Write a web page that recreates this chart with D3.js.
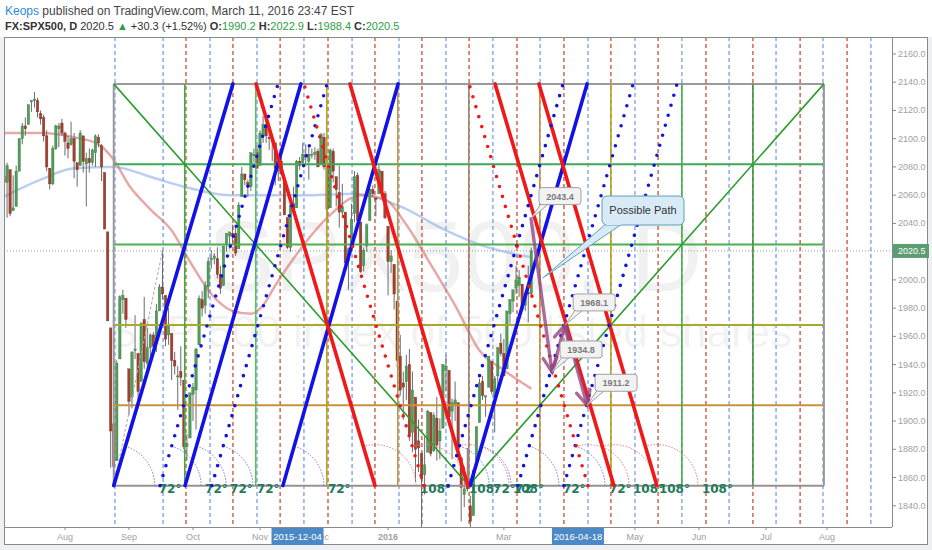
<!DOCTYPE html>
<html><head><meta charset="utf-8">
<script src="https://cdn.jsdelivr.net/npm/d3@7/dist/d3.min.js"></script>
<style>html,body{margin:0;padding:0;background:#eef0f3;}svg{display:block;}</style>
</head><body>
<svg id="chart" width="932" height="550"></svg>
<script>
// ================= DATA =================
// Daily bars (trading days) starting 2015-07-06 : [open, high, low, close]
const candles = [
 // Jul 2015
 [2073,2078,2058,2069],[2069,2083,2044,2081],[2078,2078,2045,2047],[2049,2074,2049,2051],[2052,2081,2052,2077],
 [2077,2100,2077,2100],[2100,2111,2096,2109],[2109,2115,2102,2107],[2110,2124,2110,2124],[2126,2127,2119,2127],
 [2127,2133,2122,2128],[2127,2129,2115,2119],[2118,2120,2110,2114],[2115,2117,2098,2102],[2102,2106,2077,2080],
 [2079,2079,2064,2068],[2068,2095,2067,2093],[2093,2110,2092,2109],[2107,2111,2094,2109],[2111,2114,2102,2104],
 // Aug 2015
 [2104,2105,2088,2098],[2097,2102,2086,2093],[2096,2112,2095,2100],[2100,2104,2072,2084],[2083,2083,2066,2078],
 [2081,2106,2081,2104],[2102,2102,2076,2084],[2082,2090,2052,2086],[2086,2093,2076,2083],[2083,2093,2081,2092],
 [2090,2103,2080,2102],[2101,2103,2094,2097],[2095,2096,2070,2080],[2076,2076,2036,2036],[2034,2034,1971,1971],
 [1966,1966,1867,1893],[1898,1948,1867,1868],[1872,1943,1872,1941],[1944,1989,1944,1988],[1986,1993,1976,1989],
 [1987,1987,1966,1972],
 // Sep 2015
 [1937,1937,1904,1914],[1917,1949,1909,1949],[1950,1975,1944,1951],[1948,1948,1909,1921],
 [1928,1970,1928,1969],[1972,1988,1937,1942],[1941,1966,1936,1952],[1952,1962,1944,1961],
 [1961,1963,1948,1953],[1955,1983,1949,1978],[1978,1997,1978,1995],[1995,2021,1986,1990],[1989,1989,1953,1958],
 [1961,1980,1954,1967],[1962,1962,1929,1943],[1943,1949,1933,1939],[1932,1939,1908,1932],[1935,1953,1925,1931],
 [1929,1929,1880,1882],[1882,1891,1872,1884],[1888,1920,1888,1920],
 // Oct 2015
 [1919,1927,1900,1924],[1922,1952,1894,1951],
 [1954,1989,1954,1987],[1986,1992,1974,1980],[1982,1999,1976,1996],[1995,2016,1987,2013],[2014,2021,2008,2015],
 [2015,2019,2011,2017],[2015,2023,2001,2004],[2004,2010,1990,1994],[1996,2024,1996,2024],[2025,2033,2020,2033],
 [2031,2034,2022,2034],[2033,2039,2026,2031],[2033,2037,2017,2019],[2022,2055,2022,2053],[2059,2080,2059,2075],
 [2075,2075,2067,2071],[2069,2071,2059,2066],[2066,2090,2063,2090],[2088,2093,2083,2089],[2090,2095,2079,2079],
 // Nov 2015
 [2081,2106,2081,2104],[2102,2116,2097,2110],[2110,2114,2097,2102],[2101,2109,2092,2100],[2098,2101,2084,2099],
 [2097,2097,2067,2079],[2077,2084,2070,2082],[2084,2087,2074,2075],[2072,2072,2046,2046],[2044,2044,2022,2023],
 [2023,2053,2020,2053],[2054,2066,2046,2050],[2051,2085,2051,2084],[2084,2087,2078,2081],[2083,2097,2083,2089],
 [2089,2096,2081,2087],[2084,2094,2071,2089],[2089,2093,2086,2089],[2089,2094,2085,2090],[2091,2093,2080,2080],
 // Dec 2015
 [2082,2104,2082,2103],[2101,2104,2078,2080],[2081,2085,2043,2050],[2051,2093,2051,2092],
 [2091,2093,2069,2077],[2073,2073,2052,2064],[2062,2081,2037,2048],[2048,2068,2045,2052],[2048,2048,2009,2012],
 [2013,2023,1993,2022],[2025,2054,2025,2043],[2047,2077,2041,2073],[2074,2076,2041,2042],[2041,2041,2005,2006],
 [2010,2023,2006,2021],[2024,2040,2020,2039],[2042,2065,2042,2064],[2064,2067,2059,2061],
 [2058,2058,2045,2057],[2061,2081,2061,2078],[2077,2077,2062,2063],[2061,2063,2043,2044],
 // Jan 2016
 [2038,2038,1989,2013],[2013,2021,2005,2017],[2011,2011,1979,1990],[1985,1985,1938,1943],[1946,1961,1918,1922],
 [1927,1935,1901,1924],[1928,1947,1915,1939],[1940,1951,1886,1890],[1892,1935,1878,1922],[1917,1917,1857,1880],
 [1886,1901,1864,1881],[1877,1877,1812,1859],[1862,1889,1848,1869],[1878,1908,1878,1907],
 [1906,1906,1875,1877],[1879,1906,1878,1904],[1902,1917,1872,1883],[1886,1902,1873,1893],[1895,1940,1895,1940],
 // Feb 2016
 [1936,1947,1921,1939],[1936,1936,1897,1903],[1907,1916,1873,1913],[1911,1928,1900,1915],[1913,1913,1872,1880],
 [1874,1874,1829,1853],[1848,1868,1839,1852],[1858,1881,1850,1852],[1840,1847,1810,1829],[1833,1865,1833,1865],
 [1872,1896,1872,1896],[1899,1930,1899,1927],[1928,1932,1915,1918],[1917,1918,1903,1918],
 [1924,1946,1924,1946],[1942,1942,1919,1921],[1917,1932,1892,1930],[1932,1952,1925,1952],[1955,1962,1946,1948],
 [1948,1958,1932,1932],
 // Mar 2016
 [1937,1978,1937,1978],[1976,1986,1969,1986],[1985,1993,1977,1993],[1994,2010,1990,2000],
 [1996,2007,1988,2002],[1997,1997,1977,1979],[1982,1992,1978,1989],[1991,2010,1970,1990],[1990.2,2022.9,1988.4,2020.5]
];

// Moving averages: [bar, price]
const maRed = [[0,2104],[12,2104],[23,2101],[31,2096],[36,2085],[41,2067],[48,2050],[55,2035],[61,2013],[68,1990],
  [75,1978],[81,1976],[85,1982],[89,1996],[97,2021],[107,2046],[117,2060],[125,2057],[132,2039],[140,2011],
  [148,1982],[156,1950],[164,1936],[173,1923]];
const maBlue = [[0,2059],[12,2071],[23,2079],[36,2080],[48,2073],[59,2066],[74,2060],[100,2060],[115,2061],
  [130,2052],[145,2035],[156,2025],[173,2016]];

const priceTicks = [1840,1860,1880,1900,1920,1940,1960,1980,2000,2020,2040,2060,2080,2100,2120,2140,2160];
const timeTicks = [["Aug",20],["Sep",41],["Oct",62],["Nov",84],["Dec",104],["2016",126],["Mar",164],["May",207],["Jun",228],["Jul",250],["Aug",270]];
const axisMarkers = [["2015-12-04",96.3],["2016-04-18",188.3]];
const lastPrice = 2020.5;

// time cycle dashed verticals (bar positions)
const blueCycles = [36.4,52.2,67.6,83.0,98.4,114.2,129.6,145.0,160.4,175.9,191.6,207.0,222.4,237.9,253.3,268.7,284.4];
const redCycles  = [59.7,75.1,90.6,106.3,121.7,137.1,152.6,168.3,183.7,199.1,214.6,230.3,245.7,261.2,276.6];

// Gann box
const gannBars   = [36,59.3,82.6,105.9,129.2,152.5,175.8,199.1,222.4,245.7,269];
const gannVColors= ["#9a9a9a","#3faa46","#5cbf5c","#a9a92a","#c8923a","#a08474","#c8923a","#a9a92a","#45ad4b","#3c9a48","#9a9a9a"];
const gannPrices = [2138.8,2081.9,2025.0,1968.1,1911.2,1854.3];
const gannHColors= ["#9a9a9a","#3caa5a","#4cb04c","#a9a92a","#c8923a","#9a9090"];

// angle lines: [bottom bar, top bar]
const blueSolid  = [[36,75.1],[59.4,97.4],[91.5,129.3],[152.9,191.3]];
const redSolid   = [[121.7,82.7],[152.2,113.5],[200.1,161.1],[214.2,175.5]];
const blueDotted = [[51.2,89.9],[68.2,106.0],[145.7,183.4],[168.6,206.4],[183.7,220.8]];
const redDotted  = [[137.8,98.4],[191.6,152.6]];

// price callouts [bar, price]
const callouts = [[172.9,2043.4],[184.1,1968.1],[179.8,1934.8],[191.3,1911.2]];
const pathPoints = [[172.9,2043.4],[179.8,1934.8],[184.1,1968.1],[191.3,1911.2]];
const note = {text:"Possible Path", bar:176.8, price:2001.4};
const helperLine = [[36,1854.3],[52.2,2022.6]];

// ================= DRAW =================
const svg = d3.select("#chart");
const PL=4, PR=892, PT=37, PB=527;
const x = d3.scaleLinear().domain([0,270]).range([4, 4+270*3.048]);
const y = d3.scaleLinear().domain([1825,2172]).range([PB, PT]);

svg.append("rect").attr("x",0).attr("y",0).attr("width",932).attr("height",550).attr("fill","#eef0f3");
svg.append("rect").attr("x",0).attr("y",0).attr("width",932).attr("height",37).attr("fill","#ffffff");
svg.append("rect").attr("x",4.5).attr("y",37.5).attr("width",923).attr("height",507).attr("fill","#fff").attr("stroke","#8a8a8a");

svg.append("defs").append("clipPath").attr("id","pane").append("rect")
  .attr("x",PL+1).attr("y",PT+1).attr("width",PR-PL-1).attr("height",PB-PT-1);
const pane = svg.append("g").attr("clip-path","url(#pane)");

const wm = pane.append("g").attr("fill","rgba(60,60,60,0.07)").attr("font-family","Liberation Sans, Arial, sans-serif").attr("text-anchor","middle");
wm.append("text").attr("x",455).attr("y",291).attr("font-size",100).text("SPX500, D");
wm.append("text").attr("x",450).attr("y",347).attr("font-size",44).text("S&P 500 index of 500 listed shares");

pane.selectAll(".bc").data(blueCycles).join("line").attr("x1",d=>x(d)).attr("x2",d=>x(d)).attr("y1",PT).attr("y2",PB)
  .attr("stroke","#8fb2ea").attr("stroke-width",1.6).attr("stroke-dasharray","4 3");
pane.selectAll(".rc").data(redCycles).join("line").attr("x1",d=>x(d)).attr("x2",d=>x(d)).attr("y1",PT).attr("y2",PB)
  .attr("stroke","#d2705c").attr("stroke-width",1.6).attr("stroke-dasharray","4 3");

const lineGen = d3.line().x(d=>x(d[0])).y(d=>y(d[1])).curve(d3.curveMonotoneX);
pane.append("path").attr("d",lineGen(maBlue)).attr("fill","none").attr("stroke","rgba(150,180,235,0.65)").attr("stroke-width",2.5);
pane.append("path").attr("d",lineGen(maRed)).attr("fill","none").attr("stroke","rgba(215,110,110,0.6)").attr("stroke-width",2.5);

pane.append("line").attr("x1",PL).attr("x2",PR).attr("y1",y(lastPrice)).attr("y2",y(lastPrice))
  .attr("stroke","#9a9a9a").attr("stroke-width",1).attr("stroke-dasharray","1 2");

const cg = pane.append("g");
candles.forEach((d,i)=>{
  const [o,h,l,c]=d, up=c>=o;
  const col = up? "#4f9e59":"#a3412f", edge = up? "#3a7a43":"#7a2e22";
  cg.append("line").attr("x1",x(i)).attr("x2",x(i)).attr("y1",y(h)).attr("y2",y(l)).attr("stroke","#6b6b6b").attr("stroke-width",1);
  const t=y(Math.max(o,c)), b=y(Math.min(o,c));
  cg.append("rect").attr("x",x(i)-1.2).attr("y",t).attr("width",2.4).attr("height",Math.max(1,b-t))
    .attr("fill",col).attr("stroke",edge).attr("stroke-width",0.4);
});

const gb = pane.append("g");
gannPrices.forEach((p,i)=>gb.append("line").attr("x1",x(gannBars[0])).attr("x2",x(gannBars[10])).attr("y1",y(p)).attr("y2",y(p))
  .attr("stroke",gannHColors[i]).attr("stroke-width",2));
gannBars.forEach((b,i)=>gb.append("line").attr("x1",x(b)).attr("x2",x(b)).attr("y1",y(gannPrices[0])).attr("y2",y(gannPrices[5]))
  .attr("stroke",gannVColors[i]).attr("stroke-width",i==0||i==10?2:1.6));
gb.append("polyline").attr("points",[[x(gannBars[0]),y(gannPrices[0])],[x(gannBars[5]),y(gannPrices[5])],[x(gannBars[10]),y(gannPrices[0])]].map(p=>p.join(",")).join(" "))
  .attr("fill","none").attr("stroke","#2b9e2b").attr("stroke-width",1.6);

pane.append("line").attr("x1",x(helperLine[0][0])).attr("y1",y(helperLine[0][1])).attr("x2",x(helperLine[1][0])).attr("y2",y(helperLine[1][1]))
  .attr("stroke","#aaa").attr("stroke-width",1).attr("stroke-dasharray","3 2");

const pTop=gannPrices[0], pBot=gannPrices[5];
const ag = pane.append("g");
function angleMark(b, deg, col){
  const bx=x(b), by=y(pBot), r=41, a=deg*Math.PI/180;
  ag.append("path").attr("d",`M${bx+r},${by} A${r},${r} 0 0 0 ${bx+r*Math.cos(a)},${by-r*Math.sin(a)}`)
    .attr("fill","none").attr("stroke",col).attr("stroke-width",1).attr("stroke-dasharray","1.5 1.5");
  ag.append("text").attr("x",bx+45).attr("y",by+7).attr("font-family","DejaVu Sans, sans-serif").attr("font-weight","bold")
    .attr("font-size",12).attr("fill","#217a5c").text(deg+"°");
}
blueSolid.concat(blueDotted).forEach(d=>angleMark(d[0],72,"#7a78d8"));
redSolid.concat(redDotted).forEach(d=>angleMark(d[0],108,"#e07a86"));

const lg = pane.append("g").attr("stroke-linecap","round");
blueSolid.forEach(d=>lg.append("line").attr("x1",x(d[0])).attr("y1",y(pBot)).attr("x2",x(d[1])).attr("y2",y(pTop)).attr("stroke","#1111e8").attr("stroke-width",3.6));
redSolid.forEach(d=>lg.append("line").attr("x1",x(d[0])).attr("y1",y(pBot)).attr("x2",x(d[1])).attr("y2",y(pTop)).attr("stroke","#f01818").attr("stroke-width",3.6));
blueDotted.forEach(d=>lg.append("line").attr("x1",x(d[0])).attr("y1",y(pBot)).attr("x2",x(d[1])).attr("y2",y(pTop)).attr("stroke","#1414e0").attr("stroke-width",3.6).attr("stroke-dasharray","0 10.4"));
redDotted.forEach(d=>lg.append("line").attr("x1",x(d[0])).attr("y1",y(pBot)).attr("x2",x(d[1])).attr("y2",y(pTop)).attr("stroke","#f01818").attr("stroke-width",3.6).attr("stroke-dasharray","0 10.4"));

const arrowCol="rgba(150,70,130,0.8)";
const pg = pane.append("g").attr("stroke",arrowCol).attr("stroke-width",3.4).attr("fill","none").attr("stroke-linecap","round");
for(let i=0;i<pathPoints.length-1;i++){
  const x1=x(pathPoints[i][0]), y1=y(pathPoints[i][1]), x2=x(pathPoints[i+1][0]), y2=y(pathPoints[i+1][1]);
  pg.append("line").attr("x1",x1).attr("y1",y1).attr("x2",x2).attr("y2",y2);
  const ang=Math.atan2(y2-y1,x2-x1), L=16, s=0.45;
  pg.append("polyline").attr("points",`${x2-L*Math.cos(ang-s)},${y2-L*Math.sin(ang-s)} ${x2},${y2} ${x2-L*Math.cos(ang+s)},${y2-L*Math.sin(ang+s)}`);
}

callouts.forEach(([b,p])=>{
  const ax=x(b), ay=y(p), bx=ax+8, by=ay-31, w=42, h=17;
  const g=pane.append("g");
  g.append("path").attr("d",`M${bx+2},${by+h-1} L${ax},${ay} L${bx+10},${by+h-1}`).attr("fill","#f2f2f2").attr("stroke","#a0a0a0");
  g.append("rect").attr("x",bx).attr("y",by).attr("width",w).attr("height",h).attr("rx",3).attr("fill","#f2f2f2").attr("stroke","#a0a0a0");
  g.append("text").attr("x",bx+w/2).attr("y",by+12).attr("text-anchor","middle").attr("font-family","Liberation Sans, Arial, sans-serif")
    .attr("font-weight","bold").attr("font-size",9).attr("fill","#7a7a7a").text(p.toFixed(1));
});
{
  const ax=x(note.bar), ay=y(note.price), bx=602, by=196, w=82, h=29;
  const g=pane.append("g");
  g.append("path").attr("d",`M${bx+4},${by+h-1} L${ax},${ay} L${bx+20},${by+h-1}`).attr("fill","#d8eaf6").attr("stroke","#5f9fb8");
  g.append("rect").attr("x",bx).attr("y",by).attr("width",w).attr("height",h).attr("rx",5).attr("fill","#d8eaf6").attr("stroke","#5f9fb8");
  g.append("rect").attr("x",bx+4).attr("y",by+h-3).attr("width",15).attr("height",3).attr("fill","#d8eaf6");
  g.append("text").attr("x",bx+w/2).attr("y",by+18).attr("text-anchor","middle").attr("font-family","Liberation Sans, Arial, sans-serif")
    .attr("font-size",11).attr("fill","#333").text(note.text);
}

svg.append("line").attr("x1",PR+0.5).attr("x2",PR+0.5).attr("y1",PT).attr("y2",PB).attr("stroke","#8a8a8a");
svg.append("line").attr("x1",PL).attr("x2",PR).attr("y1",PB+0.5).attr("y2",PB+0.5).attr("stroke","#8a8a8a");

const ya = svg.append("g").attr("font-family","Liberation Sans, Arial, sans-serif").attr("font-size",9).attr("fill","#a0a0a0");
priceTicks.forEach(p=>{
  ya.append("line").attr("x1",PR).attr("x2",PR+4).attr("y1",y(p)).attr("y2",y(p)).attr("stroke","#8a8a8a");
  ya.append("text").attr("x",PR+6).attr("y",y(p)+3).text(p.toFixed(1));
});
ya.append("rect").attr("x",PR+1).attr("y",y(lastPrice)-7).attr("width",36).attr("height",14).attr("fill","#5c9e72");
ya.append("text").attr("x",PR+6).attr("y",y(lastPrice)+3.5).attr("fill","#fff").text(lastPrice.toFixed(1));

const xa = svg.append("g").attr("font-family","Liberation Sans, Arial, sans-serif").attr("font-size",9).attr("fill","#a0a0a0").attr("text-anchor","middle");
timeTicks.forEach(([t,b])=>{
  xa.append("line").attr("x1",x(b)).attr("x2",x(b)).attr("y1",PB).attr("y2",PB+3).attr("stroke","#8a8a8a");
  xa.append("text").attr("x",x(b)).attr("y",PB+13).attr("font-weight",t==="2016"?"bold":"normal").text(t);
});
axisMarkers.forEach(([t,b])=>{
  xa.append("rect").attr("x",x(b)-26).attr("y",PB+1).attr("width",52).attr("height",17).attr("fill","#4a88c6");
  xa.append("text").attr("x",x(b)).attr("y",PB+13).attr("fill","#fff").attr("font-size",9.5).text(t);
});

const hd = svg.append("g").attr("font-family","Liberation Sans, Arial, sans-serif");
const t1 = hd.append("text").attr("x",5).attr("y",15).attr("fill","#444").attr("font-size",12);
t1.append("tspan").attr("fill","#2b8ad6").text("Keops");
t1.append("tspan").text(" published on TradingView.com, March 11, 2016 23:47 EST");
const LB = candles[candles.length-1];
const t2 = hd.append("text").attr("x",5).attr("y",30).attr("fill","#333").attr("font-size",11);
t2.append("tspan").attr("font-weight","bold").text("FX:SPX500, D ");
t2.append("tspan").text(" "+LB[3].toFixed(1)+" ");
t2.append("tspan").attr("fill","#2e9e40").text("▲");
t2.append("tspan").text(" +30.3 (+1.52%) ");
[["O:",LB[0]],["H:",LB[1]],["L:",LB[2]],["C:",LB[3]]].forEach(([k,v])=>{
  t2.append("tspan").attr("font-weight","bold").text(k);
  t2.append("tspan").attr("fill","#2e9e40").text(v.toFixed(1)+" ");
});
</script>
</body></html>
